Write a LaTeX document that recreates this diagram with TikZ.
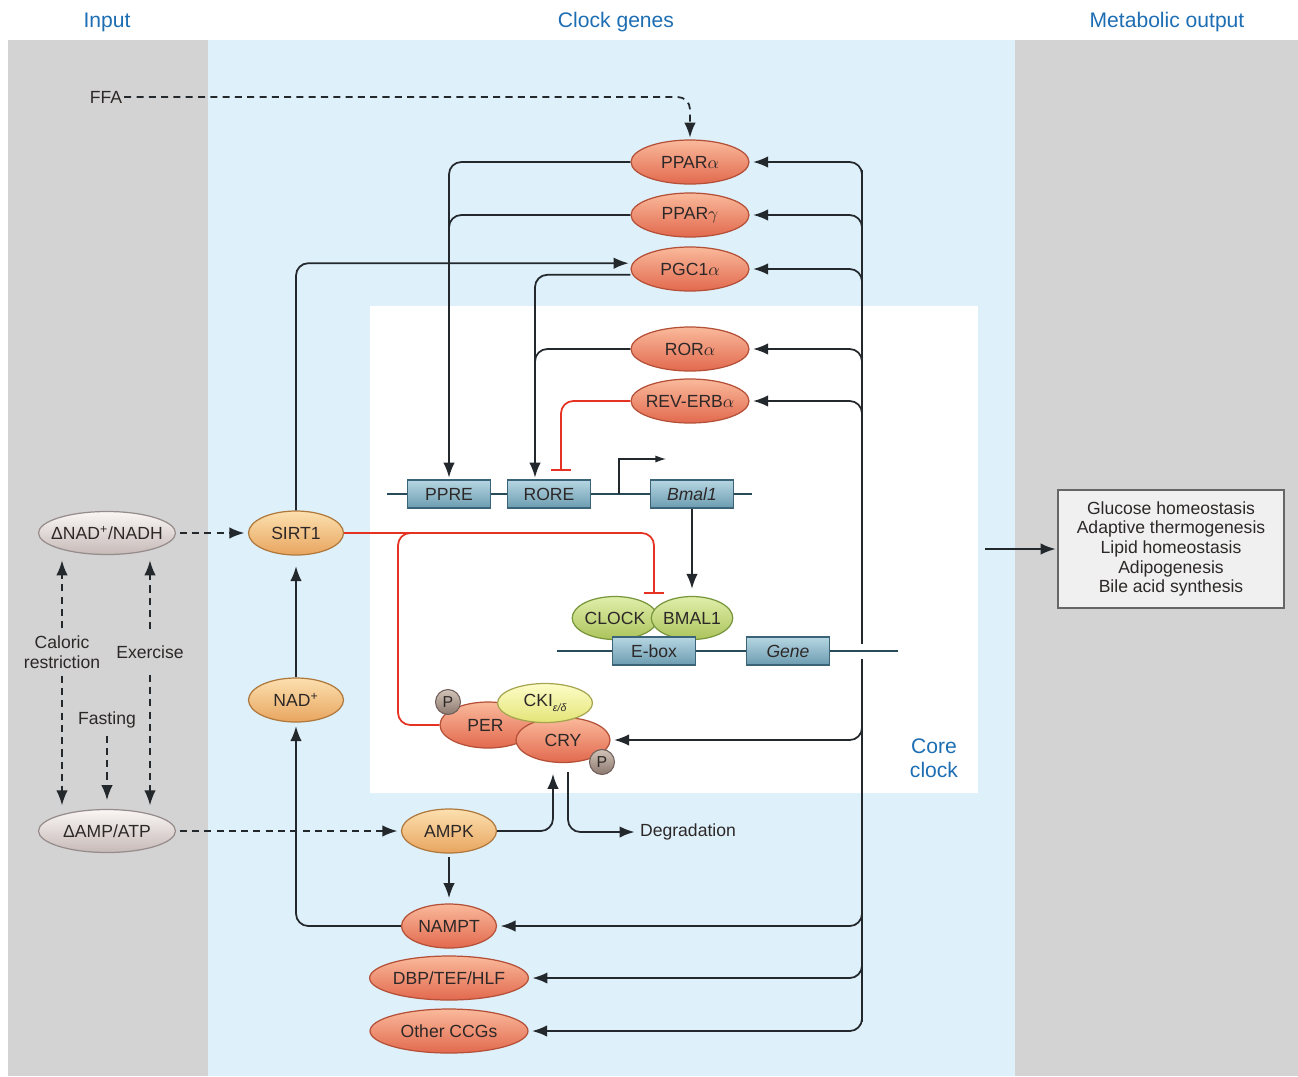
\documentclass[tikz,border=0pt]{standalone}
\usepackage{fontspec}
\setmainfont{Liberation Sans}
\usetikzlibrary{arrows.meta,shapes.geometric,calc}
\definecolor{hdrblue}{RGB}{30,110,180}
\definecolor{panelgray}{RGB}{211,211,211}
\definecolor{panelblue}{RGB}{222,240,250}
\definecolor{salL}{RGB}{250,185,155}
\definecolor{salD}{RGB}{226,105,78}
\definecolor{salB}{RGB}{180,80,55}
\definecolor{orL}{RGB}{252,224,175}
\definecolor{orD}{RGB}{232,165,95}
\definecolor{orB}{RGB}{175,120,60}
\definecolor{gyL}{RGB}{250,246,244}
\definecolor{gyD}{RGB}{198,186,184}
\definecolor{gyB}{RGB}{150,140,140}
\definecolor{grL}{RGB}{224,238,170}
\definecolor{grD}{RGB}{172,196,92}
\definecolor{grB}{RGB}{120,150,60}
\definecolor{yeL}{RGB}{253,253,200}
\definecolor{yeD}{RGB}{228,228,120}
\definecolor{yeB}{RGB}{165,165,80}
\definecolor{bxL}{RGB}{182,214,226}
\definecolor{bxD}{RGB}{108,156,176}
\definecolor{bxB}{RGB}{60,100,120}
\definecolor{dna}{RGB}{40,75,90}
\definecolor{pL}{RGB}{210,196,186}
\definecolor{pD}{RGB}{140,120,110}
\definecolor{pB}{RGB}{110,95,90}
\definecolor{lineK}{RGB}{35,40,45}
\definecolor{inhib}{RGB}{230,50,35}
\definecolor{txtdark}{RGB}{45,40,40}
\tikzset{
  every node/.style={font=\fontsize{10}{11.2}\selectfont, text=txtdark},
  hdr/.style={font=\fontsize{12}{13.5}\selectfont, text=hdrblue},
  txt/.style={inner sep=1pt},
  ellbase/.style={ellipse, inner sep=0pt, line width=0.7pt, minimum height=0.88cm},
  sal/.style={ellbase, draw=salB, top color=salL, bottom color=salD, minimum width=2.36cm},
  salS/.style={sal, minimum width=1.9cm},
  salW/.style={sal, minimum width=3.16cm},
  org/.style={ellbase, draw=orB, top color=orL, bottom color=orD, minimum width=1.9cm},
  gry/.style={ellbase, draw=gyB, top color=gyL, bottom color=gyD, minimum width=2.74cm, minimum height=0.86cm},
  grn/.style={ellbase, draw=grB, top color=grL, bottom color=grD, minimum width=1.54cm, minimum height=0.86cm},
  yel/.style={ellbase, draw=yeB, top color=yeL, bottom color=yeD, minimum width=1.9cm, minimum height=0.78cm},
  pc/.style={circle, inner sep=0pt, minimum size=0.5cm, draw=pB, top color=pL, bottom color=pD, line width=0.6pt, font=\fontsize{9}{9}\selectfont},
  genebox/.style={rectangle, inner sep=0pt, draw=bxB, line width=0.7pt, top color=bxL, bottom color=bxD, minimum width=1.66cm, minimum height=0.56cm},
  outbox/.style={rectangle, draw=black!60, line width=0.8pt, fill=black!6, minimum width=4.52cm, minimum height=2.36cm, align=center},
  conn/.style={draw=lineK, line width=1pt, rounded corners=7pt},
  arr/.style={-{Latex[length=8.5pt,width=6.5pt]}, shorten >=1pt},
  dsh/.style={conn, dash pattern=on 4pt off 3pt},
  inh/.style={draw=inhib, line width=1pt, rounded corners=7pt, -{Bar[width=11pt,line width=1.3pt]}},
  inhl/.style={draw=inhib, line width=1pt, rounded corners=7pt},
  dnaline/.style={draw=dna, line width=1.3pt},
}
\begin{document}
\begin{tikzpicture}[x=0.02cm,y=-0.02cm]
\useasboundingbox (0,0) rectangle (1298,1076);
% backgrounds
\fill[white] (0,0) rectangle (1298,1076);
\fill[panelgray] (8,40) rectangle (208,1076);
\fill[panelblue] (208,40) rectangle (1015,1076);
\fill[panelgray] (1015,40) rectangle (1298,1076);
\fill[white] (370,306) rectangle (978,793);

% headers
\node[hdr] (hIn) at (107,22) {Input};
\node[hdr] (hClk) at (616,22) {Clock genes};
\node[hdr] (hOut) at (1167,22) {Metabolic output};
\node[hdr, align=center] (core) at (934,758) {Core\\clock};

% DNA lines
\coordinate (dnaAL) at (387,494);
\coordinate (dnaAR) at (752,494);
\coordinate (dnaBL) at (557,651);
\coordinate (dnaBR) at (898,651);
\draw[dnaline] (dnaAL) -- (dnaAR);
\draw[dnaline] (dnaBL) -- (dnaBR);

% genes
\node[genebox] (PPRE) at (449,494) {PPRE};
\node[genebox] (RORE) at (549,494) {RORE};
\node[genebox] (Bmal1) at (692,494) {\textit{Bmal1}};

% salmon nodes
\node[sal] (PPARa) at (690,162) {PPAR$\alpha$};
\node[sal] (PPARg) at (690,215) {PPAR$\gamma$};
\node[sal] (PGC1a) at (690,269) {PGC1$\alpha$};
\node[sal] (RORa) at (690,349) {ROR$\alpha$};
\node[sal, inner xsep=-2pt] (REV) at (690,401) {REV-ERB$\alpha$};

% CLOCK/BMAL1
\node[grn] (CLOCK) at (615,618) {CLOCK};
\node[grn] (BMAL1) at (692,618) {BMAL1};
\node[genebox] (Ebox) at (654,651) {E-box};
\node[genebox] (Gene) at (788,651) {\textit{Gene}};

% PER/CRY complex
\node[salS, minimum width=1.92cm, minimum height=0.92cm] (PER) at (488,725) {\hspace*{-0.1cm}PER};
\node[salS, minimum width=1.88cm, minimum height=0.9cm] (CRY) at (563,740) {CRY};
\node[yel] (CKI) at (545,703) {CKI{\fontsize{6}{6}\selectfont\itshape\raisebox{-3pt}{ε/δ}}};
\node[pc] (P1) at (448,702) {P};
\node[pc] (P2) at (602,762) {P};

% left column
\node[gry, inner xsep=-4.5pt] (NADH) at (107,533) {ΔNAD\textsuperscript{+}/NADH};
\node[gry] (AMP) at (107,831) {ΔAMP/ATP};
\node[org] (SIRT1) at (296,533) {SIRT1};
\node[org] (NAD) at (296,700) {NAD\textsuperscript{+}};
\node[org] (AMPK) at (449,831) {AMPK};
\node[salS] (NAMPT) at (449,926) {NAMPT};
\node[salW] (DBP) at (449,978) {DBP/TEF/HLF};
\node[salW] (CCG) at (449,1031) {Other CCGs};

% labels
\node[txt] (FFA) at (106,97) {FFA};
\node[txt] (deg) at (688,832) {Degradation};
\node[txt, align=center] (cal) at (62,652) {Caloric\\restriction};
\node[txt] (exe) at (150,652) {Exercise};
\node[txt] (fast) at (107,720) {Fasting};

% output
\node[outbox] (out) at (1171,549) {Glucose homeostasis\\Adaptive thermogenesis\\Lipid homeostasis\\Adipogenesis\\Bile acid synthesis};
\coordinate (outStart) at (985,549);
\draw[conn, arr] (outStart) -- (out.west);

% FFA
\draw[dsh, arr] (FFA.east) -| (PPARa.north);

% PPAR -> PPRE
\draw[conn, arr] (PPARa.west) -| (PPRE.north);
\draw[conn] (PPARg.west) -| ($(PPRE.north |- PPARg.west)+(0,26)$);

% PGC1a/RORa -> RORE
\draw[conn, arr] ([yshift=-3.3pt]PGC1a.west) -| ($(RORE.north)+(-14,0)$);
\draw[conn] (RORa.west) -| ($(RORE.north |- RORa.west)+(-14,26)$);

% REV-ERBa -| RORE
\draw[inh] (REV.west) -| ($(RORE.north)+(12,-8)$);

% SIRT1 -> PGC1a
\draw[conn, arr] (SIRT1.north) |- ([yshift=3.3pt]PGC1a.west);

% promoter arrow
\coordinate (prom) at (619,494);
\coordinate (promEnd) at (666,459);
\draw[draw=lineK, line width=0.7pt, -{Latex[length=6pt,width=4pt]}] (prom) |- (promEnd);

% Bmal1 -> BMAL1
\draw[conn, arr, shorten >=4pt] (Bmal1.south) -- (Bmal1.south |- BMAL1.north);

% SIRT1 inhibition
\coordinate (cbTop) at (654,594);
\draw[inh] (SIRT1.east) -| (cbTop);
\coordinate (rb0) at (414,533);
\coordinate (rb1) at (398,650);
\draw[inhl] (rb0) -| (rb1) |- (PER.west);

% bus
\coordinate (bus) at (862,0);
\coordinate (busT) at (862,170);
\coordinate (busM1) at (862,644);
\coordinate (busM2) at (862,659);
\coordinate (busB) at (862,1022);
\draw[conn] (busT) -- (busM1);
\draw[conn] (busM2) -- (busB);
\foreach \n in {PPARa,PPARg,PGC1a,RORa,REV}
  \draw[conn, arr, shorten >=2pt] ($(bus |- \n.east)+(0,15)$) |- (\n.east);
\foreach \n in {CRY,NAMPT,DBP,CCG}
  \draw[conn, arr, shorten >=2pt] ($(bus |- \n.east)+(0,-15)$) |- (\n.east);

% left column connectors
\draw[dsh, arr, shorten <=2pt, shorten >=2pt] (NADH.east) -- (SIRT1.west);
\draw[conn, arr, shorten >=6pt] (NAD.north) -- (SIRT1.south);
\draw[conn, arr, shorten >=2pt] (NAMPT.west) -| (NAD.south);
\draw[dsh, arr, shorten <=2pt, shorten >=2pt] (AMP.east) -- (AMPK.west);
\draw[conn, arr, shorten <=2pt, shorten >=3pt] (AMPK.south) -- (NAMPT.north);
\draw[conn, arr] (AMPK.east) -| ($(CRY.south)+(-10,9)$);
\draw[conn, arr, shorten >=2pt] ($(CRY.south)+(5,9)$) |- (deg.west);

% input dashed arrows
\draw[dsh, arr, shorten <=3pt, shorten >=3pt] (cal.north) -- (NADH.south -| cal);
\draw[dsh, arr, shorten <=3pt, shorten >=2pt] (cal.south) -- (AMP.north -| cal);
\draw[dsh, arr, shorten <=8pt, shorten >=3pt] (exe.north) -- (NADH.south -| exe);
\draw[dsh, arr, shorten <=8pt, shorten >=2pt] (exe.south) -- (AMP.north -| exe);
\draw[dsh, arr, shorten <=3pt, shorten >=5pt] (fast.south) -- (AMP.north -| fast);
\end{tikzpicture}
\end{document}
